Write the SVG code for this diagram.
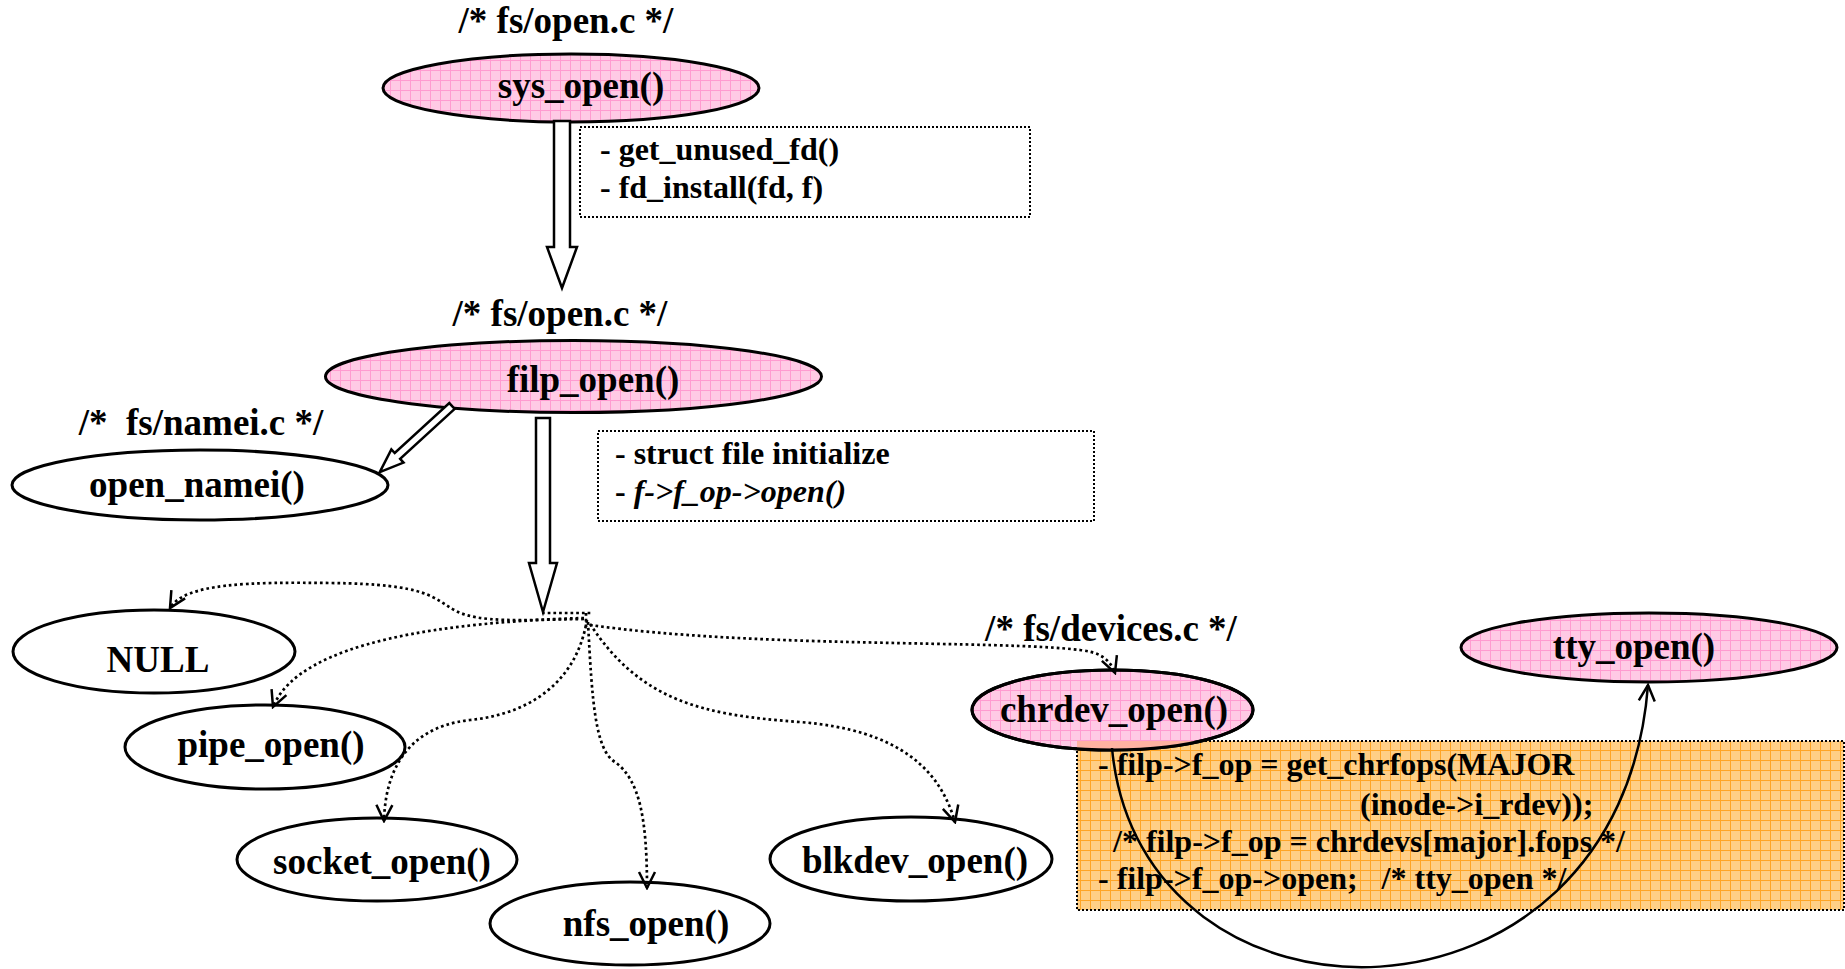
<svg xmlns="http://www.w3.org/2000/svg" width="1845" height="969" viewBox="0 0 1845 969">
  <style>
    .lbl { font-family: "Liberation Serif", "Times New Roman", serif; font-weight: bold; font-size: 37px; fill: #000; text-anchor: middle; }
    .note { font-family: "Liberation Serif", "Times New Roman", serif; font-weight: bold; font-size: 32px; fill: #000; }
    .node { stroke: #000; stroke-width: 3; }
    .plain { fill: #fff; }
    .pink { fill: url(#pinkGrid); }
    .dotbox { fill: none; stroke: #000; stroke-width: 2; stroke-dasharray: 2 2; }
    .block { fill: #fff; stroke: #000; stroke-width: 2.5; stroke-linejoin: miter; }
    .dotted { fill: none; stroke: #000; stroke-width: 2.7; stroke-dasharray: 2.7 3; }
    .tip { marker-end: url(#vhead); }
    .solid { fill: none; stroke: #000; stroke-width: 2.5; }
  </style>
  <defs>
    <pattern id="pinkGrid" width="10" height="10" patternUnits="userSpaceOnUse">
      <rect width="10" height="10" fill="#FFCAE5"/>
      <path d="M0,0.5H10M0.5,0V10" stroke="#FF9BD0" stroke-width="1"/>
    </pattern>
    <pattern id="orangeGrid" width="10" height="10" patternUnits="userSpaceOnUse">
      <rect width="10" height="10" fill="#FFCF86"/>
      <path d="M0,0.5H10M0.5,0V10" stroke="#FFA526" stroke-width="1"/>
    </pattern>
    <clipPath id="noteArea">
      <rect x="1077" y="741" width="767" height="169"/>
    </clipPath>
    <marker id="vhead" viewBox="0 0 20 20" refX="18" refY="10" markerWidth="20" markerHeight="20" markerUnits="userSpaceOnUse" orient="auto">
      <path d="M2,2 L18,10 L2,18" fill="none" stroke="#000" stroke-width="2.5"/>
    </marker>
  </defs>

  <rect width="1845" height="969" fill="#fff"/>

  <!-- file labels -->
  <g id="labels">
    <text class="lbl" x="566" y="33">/* fs/open.c */</text>
    <text class="lbl" x="560" y="326">/* fs/open.c */</text>
    <text class="lbl" x="201" y="435" xml:space="preserve">/*  fs/namei.c */</text>
    <text class="lbl" x="1111" y="641">/* fs/devices.c */</text>
  </g>

  <!-- notes -->
  <g id="note-sys-open">
    <rect class="dotbox" x="580" y="127" width="450" height="90"/>
    <text class="note" x="600" y="160">- get_unused_fd()</text>
    <text class="note" x="600" y="198">- fd_install(fd, f)</text>
  </g>
  <g id="note-filp-open">
    <rect class="dotbox" x="598" y="431" width="496" height="90"/>
    <text class="note" x="615" y="464">- struct file initialize</text>
    <text class="note" x="615" y="502">- <tspan font-style="italic">f-&gt;f_op-&gt;open()</tspan></text>
  </g>
  <g id="note-chrdev-open">
    <rect x="1077" y="741" width="767" height="169" fill="url(#orangeGrid)"/>
    <rect class="dotbox" x="1077" y="741" width="767" height="169"/>
  </g>

  <!-- nodes -->
  <g id="sys_open">
    <ellipse class="node pink" cx="571" cy="88" rx="188" ry="34"/>
    <text class="lbl" x="581" y="98">sys_open()</text>
  </g>
  <g id="filp_open">
    <ellipse class="node pink" cx="573.5" cy="376.5" rx="248" ry="36"/>
    <text class="lbl" x="593" y="392">filp_open()</text>
  </g>
  <g id="open_namei">
    <ellipse class="node plain" cx="200" cy="485" rx="188" ry="35"/>
    <text class="lbl" x="197" y="497">open_namei()</text>
  </g>
  <g id="null">
    <ellipse class="node plain" cx="154" cy="651.5" rx="141" ry="41.5"/>
    <text class="lbl" x="158" y="672">NULL</text>
  </g>
  <g id="pipe_open">
    <ellipse class="node plain" cx="265" cy="747" rx="140" ry="42"/>
    <text class="lbl" x="271" y="757">pipe_open()</text>
  </g>
  <g id="socket_open">
    <ellipse class="node plain" cx="377" cy="859.5" rx="140" ry="41.5"/>
    <text class="lbl" x="382" y="874">socket_open()</text>
  </g>
  <g id="nfs_open">
    <ellipse class="node plain" cx="630" cy="923.5" rx="140" ry="41.5"/>
    <text class="lbl" x="646" y="936">nfs_open()</text>
  </g>
  <g id="blkdev_open">
    <ellipse class="node plain" cx="911" cy="859" rx="141" ry="42"/>
    <text class="lbl" x="915" y="873">blkdev_open()</text>
  </g>
  <g id="chrdev_open">
    <ellipse class="node pink" cx="1112.5" cy="710" rx="140.5" ry="40"/>
    <ellipse cx="1112.5" cy="710" rx="140.5" ry="40" fill="#FFB2A2" clip-path="url(#noteArea)"/>
    <ellipse cx="1112.5" cy="710" rx="140.5" ry="40" fill="none" stroke="#000" stroke-width="3"/>
    <text class="lbl" x="1114" y="722">chrdev_open()</text>
  </g>
  <g id="tty_open">
    <ellipse class="node pink" cx="1649" cy="647.5" rx="188" ry="34.5"/>
    <text class="lbl" x="1634" y="659">tty_open()</text>
  </g>

  <!-- text of the chrdev_open note, above the node outline -->
  <g id="note-chrdev-open-text">
    <text class="note" x="1098" y="775">- filp-&gt;f_op = get_chrfops(MAJOR</text>
    <text class="note" x="1360" y="815">(inode-&gt;i_rdev));</text>
    <text class="note" x="1113" y="852">/* filp-&gt;f_op = chrdevs[major].fops */</text>
    <text class="note" x="1098" y="889" xml:space="preserve">- filp-&gt;f_op-&gt;open;   /* tty_open */</text>
  </g>

  <!-- connectors -->
  <g id="connectors">
    <!-- hollow call arrows -->
    <polygon class="block" points="554,121 570,121 570,247 577,247 562,288 547,247 554,247"/>
    <polygon class="block" points="536,418 550,418 550,563 557,563 543,612 529,563 536,563"/>
    <polygon class="block" points="0,-4 74,-4 74,-9 98,0 74,9 74,4 0,4" transform="translate(452,406) rotate(137.5)"/>

    <!-- dispatch through f_op->open -->
    <path class="dotted" d="M542,613 H592 M586,613 V627"/>
    <path class="dotted tip" d="M584,619 C 520,620 480,623 456,611 C 432,598 430,584 330,583 C 250,582 185,583 170,608"/>
    <path class="dotted tip" d="M584,618 C 450,622 300,640 273,707"/>
    <path class="dotted tip" d="M587,620 C 575,690 520,715 470,720 C 400,728 385,780 384,821"/>
    <path class="dotted tip" d="M588,622 C 592,700 595,750 615,762 C 640,780 647,820 647,888"/>
    <path class="dotted tip" d="M590,624 C 640,700 700,715 800,722 C 900,730 940,770 955,822"/>
    <path class="dotted tip" d="M590,625 C 750,648 1000,640 1080,650 C 1097,652 1109,657 1115,673"/>

    <!-- chrdev_open hands over to tty_open -->
    <path class="solid tip" d="M1112,748 C 1140,1050 1620,1050 1648,685"/>
  </g>
</svg>
